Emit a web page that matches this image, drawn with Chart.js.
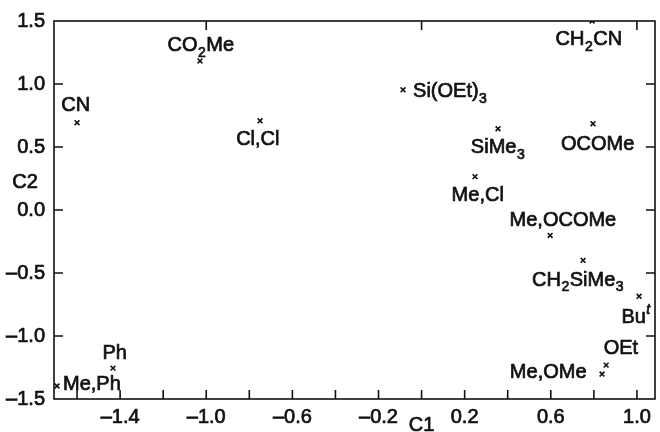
<!DOCTYPE html>
<html>
<head>
<meta charset="utf-8">
<script src="https://cdn.jsdelivr.net/npm/chart.js@4"></script>
<style>
  html, body { margin: 0; padding: 0; background: #fff; }
  #wrap { width: 660px; height: 432px; position: relative; }
</style>
</head>
<body>
<div id="wrap"><canvas id="chart"></canvas></div>
<script>
/* ================= DATA ================= */
const substituents = [
  "CN", "CO_2Me", "Cl,Cl", "Si(OEt)_3", "CH_2CN", "OCOMe", "SiMe_3", "Me,Cl",
  "Me,OCOMe", "CH_2SiMe_3", "Bu^t", "OEt", "Me,OMe", "Ph", "Me,Ph"
];
const c1Values = [
  -1.600, -1.029, -0.750, -0.086, 0.792, 0.796, 0.355, 0.248,
  0.597, 0.750, 1.010, 0.857, 0.838, -1.433, -1.693
];
const c2Values = [
  0.693, 1.183, 0.708, 0.954, 1.500, 0.685, 0.645, 0.265,
  -0.202, -0.400, -0.685, -1.231, -1.302, -1.255, -1.397
];

const xTickValues = [-1.6, -1.4, -1.2, -1.0, -0.8, -0.6, -0.4, -0.2, 0.0, 0.2, 0.4, 0.6, 0.8, 1.0];
const xTickLabels = [-1.4, -1.0, -0.6, -0.2, 0.2, 0.6, 1.0];
const xTopTicks = [-1.0, 0.0, 1.0];
const yTickValues = [-1.5, -1.0, -0.5, 0.0, 0.5, 1.0, 1.5];
const ySideTicks = [-1.0, -0.5, 0.0, 0.5, 1.0];

/* label placement: [dx, dy, align] relative to the marker */
const labelPlacement = [
  [-1, -19, "center"], [1, -17, "center"], [-2, 17, "center"], [10, 0, "left"],
  [-3, 17, "center"], [5, 19, "center"], [0, 17, "center"], [3, 17, "center"],
  [13, -17, "center"], [-5, 18, "center"], [-3, 19, "center"], [15, -18, "center"],
  [-15, -3, "right"], [2, -16, "center"], [6, -3, "left"]
];

const FONT = "'Liberation Sans', Arial, sans-serif";
const INK = "#111";
const SIZE = 20;
const THICK = 0.7;   // faux semi-bold stroke

/* ================= RICH TEXT (sub/superscripts) ================= */
function parseLabel(txt) {
  const parts = [];
  for (let i = 0; i < txt.length; i++) {
    const ch = txt[i];
    if ((ch === "_" || ch === "^") && i + 1 < txt.length) {
      parts.push({ t: txt[i + 1], kind: ch === "_" ? "sub" : "sup" });
      i++;
    } else {
      const last = parts[parts.length - 1];
      if (last && last.kind === "normal") last.t += ch;
      else parts.push({ t: ch, kind: "normal" });
    }
  }
  return parts;
}

function fontFor(kind, size) {
  if (kind === "sub") return Math.round(size * 0.72) + "px " + FONT;
  if (kind === "sup") return "italic " + Math.round(size * 0.72) + "px " + FONT;
  return size + "px " + FONT;
}

function drawRich(ctx, txt, x, cy, align, size) {
  const parts = parseLabel(txt);
  let total = 0;
  parts.forEach(p => {
    ctx.font = fontFor(p.kind, size);
    p.w = ctx.measureText(p.t).width + 0.5;
    total += p.w;
  });
  let cx = x;
  if (align === "center") cx = x - total / 2;
  if (align === "right") cx = x - total;
  const base = cy + size * 0.36;
  ctx.textAlign = "left";
  ctx.textBaseline = "alphabetic";
  ctx.lineWidth = THICK;
  ctx.strokeStyle = INK;
  parts.forEach(p => {
    ctx.font = fontFor(p.kind, size);
    let by = base;
    if (p.kind === "sub") by = base + size * 0.28;
    if (p.kind === "sup") by = base - size * 0.42;
    ctx.fillText(p.t, cx, by);
    ctx.strokeText(p.t, cx, by);
    cx += p.w;
  });
}

/* ================= PLUGINS ================= */
const framePlugin = {
  id: "frame",
  afterDraw(chart) {
    const { ctx, chartArea: a, scales } = chart;
    const xs = scales.x, ys = scales.y;
    const len = 9;
    ctx.save();
    ctx.strokeStyle = INK;
    ctx.lineWidth = 1.6;
    ctx.strokeRect(a.left, a.top, a.right - a.left, a.bottom - a.top);
    ctx.beginPath();
    xTickValues.forEach(v => {
      const px = xs.getPixelForValue(v);
      ctx.moveTo(px, a.bottom);
      ctx.lineTo(px, a.bottom - len);
    });
    xTopTicks.forEach(v => {
      const px = xs.getPixelForValue(v);
      ctx.moveTo(px, a.top);
      ctx.lineTo(px, a.top + len);
    });
    ySideTicks.forEach(v => {
      const py = ys.getPixelForValue(v);
      ctx.moveTo(a.left, py);
      ctx.lineTo(a.left + len, py);
      ctx.moveTo(a.right, py);
      ctx.lineTo(a.right - len, py);
    });
    ctx.stroke();

    // axis titles
    ctx.fillStyle = INK;
    ctx.lineWidth = THICK;
    ctx.font = SIZE + "px " + FONT;
    ctx.textAlign = "center";
    ctx.textBaseline = "middle";
    ctx.fillText("C2", 25, ys.getPixelForValue(0.22));
    ctx.strokeText("C2", 25, ys.getPixelForValue(0.22));
    ctx.fillText("C1", xs.getPixelForValue(0.0), 425);
    ctx.strokeText("C1", xs.getPixelForValue(0.0), 425);
    ctx.restore();
  }
};

const labelPlugin = {
  id: "pointLabels",
  afterDatasetsDraw(chart) {
    const ctx = chart.ctx;
    const meta = chart.getDatasetMeta(0);
    ctx.save();
    ctx.fillStyle = INK;
    meta.data.forEach((pt, i) => {
      const [dx, dy, align] = labelPlacement[i];
      drawRich(ctx, substituents[i], pt.x + dx, pt.y + dy, align, SIZE);
    });
    ctx.restore();
  }
};

/* ================= CHART ================= */
function fmt(v) {
  const s = Math.abs(v).toFixed(1);
  return v < -1e-9 ? "\u2013" + s : s;
}

new Chart(document.getElementById("chart"), {
  type: "scatter",
  data: {
    datasets: [{
      data: c1Values.map((x, i) => ({ x: x, y: c2Values[i] })),
      pointStyle: "crossRot",
      pointRadius: 3.4,
      pointHoverRadius: 3.4,
      borderColor: INK,
      backgroundColor: INK,
      borderWidth: 1.6
    }]
  },
  options: {
    responsive: true,
    maintainAspectRatio: false,
    animation: false,
    events: [],
    layout: { padding: { top: 20, right: 5, left: 0, bottom: 0 } },
    plugins: { legend: { display: false }, tooltip: { enabled: false } },
    scales: {
      x: {
        type: "linear",
        min: -1.707,
        max: 1.084,
        grid: { display: false, drawTicks: false },
        border: { display: false },
        afterBuildTicks: s => { s.ticks = xTickValues.map(v => ({ value: v })); },
        afterFit: s => { s.height = 33; },
        ticks: {
          autoSkip: false,
          maxRotation: 0,
          padding: 6,
          color: INK,
          textStrokeColor: INK,
          textStrokeWidth: THICK,
          font: { family: FONT, size: SIZE },
          callback: v => xTickLabels.some(t => Math.abs(t - v) < 1e-6) ? fmt(v) : ""
        }
      },
      y: {
        type: "linear",
        min: -1.5,
        max: 1.5,
        grid: { display: false, drawTicks: false },
        border: { display: false },
        afterBuildTicks: s => { s.ticks = yTickValues.map(v => ({ value: v })); },
        afterFit: s => { s.width = 54; },
        ticks: {
          autoSkip: false,
          padding: 9,
          color: INK,
          textStrokeColor: INK,
          textStrokeWidth: THICK,
          font: { family: FONT, size: SIZE },
          callback: v => fmt(v)
        }
      }
    }
  },
  plugins: [framePlugin, labelPlugin]
});
</script>
</body>
</html>
